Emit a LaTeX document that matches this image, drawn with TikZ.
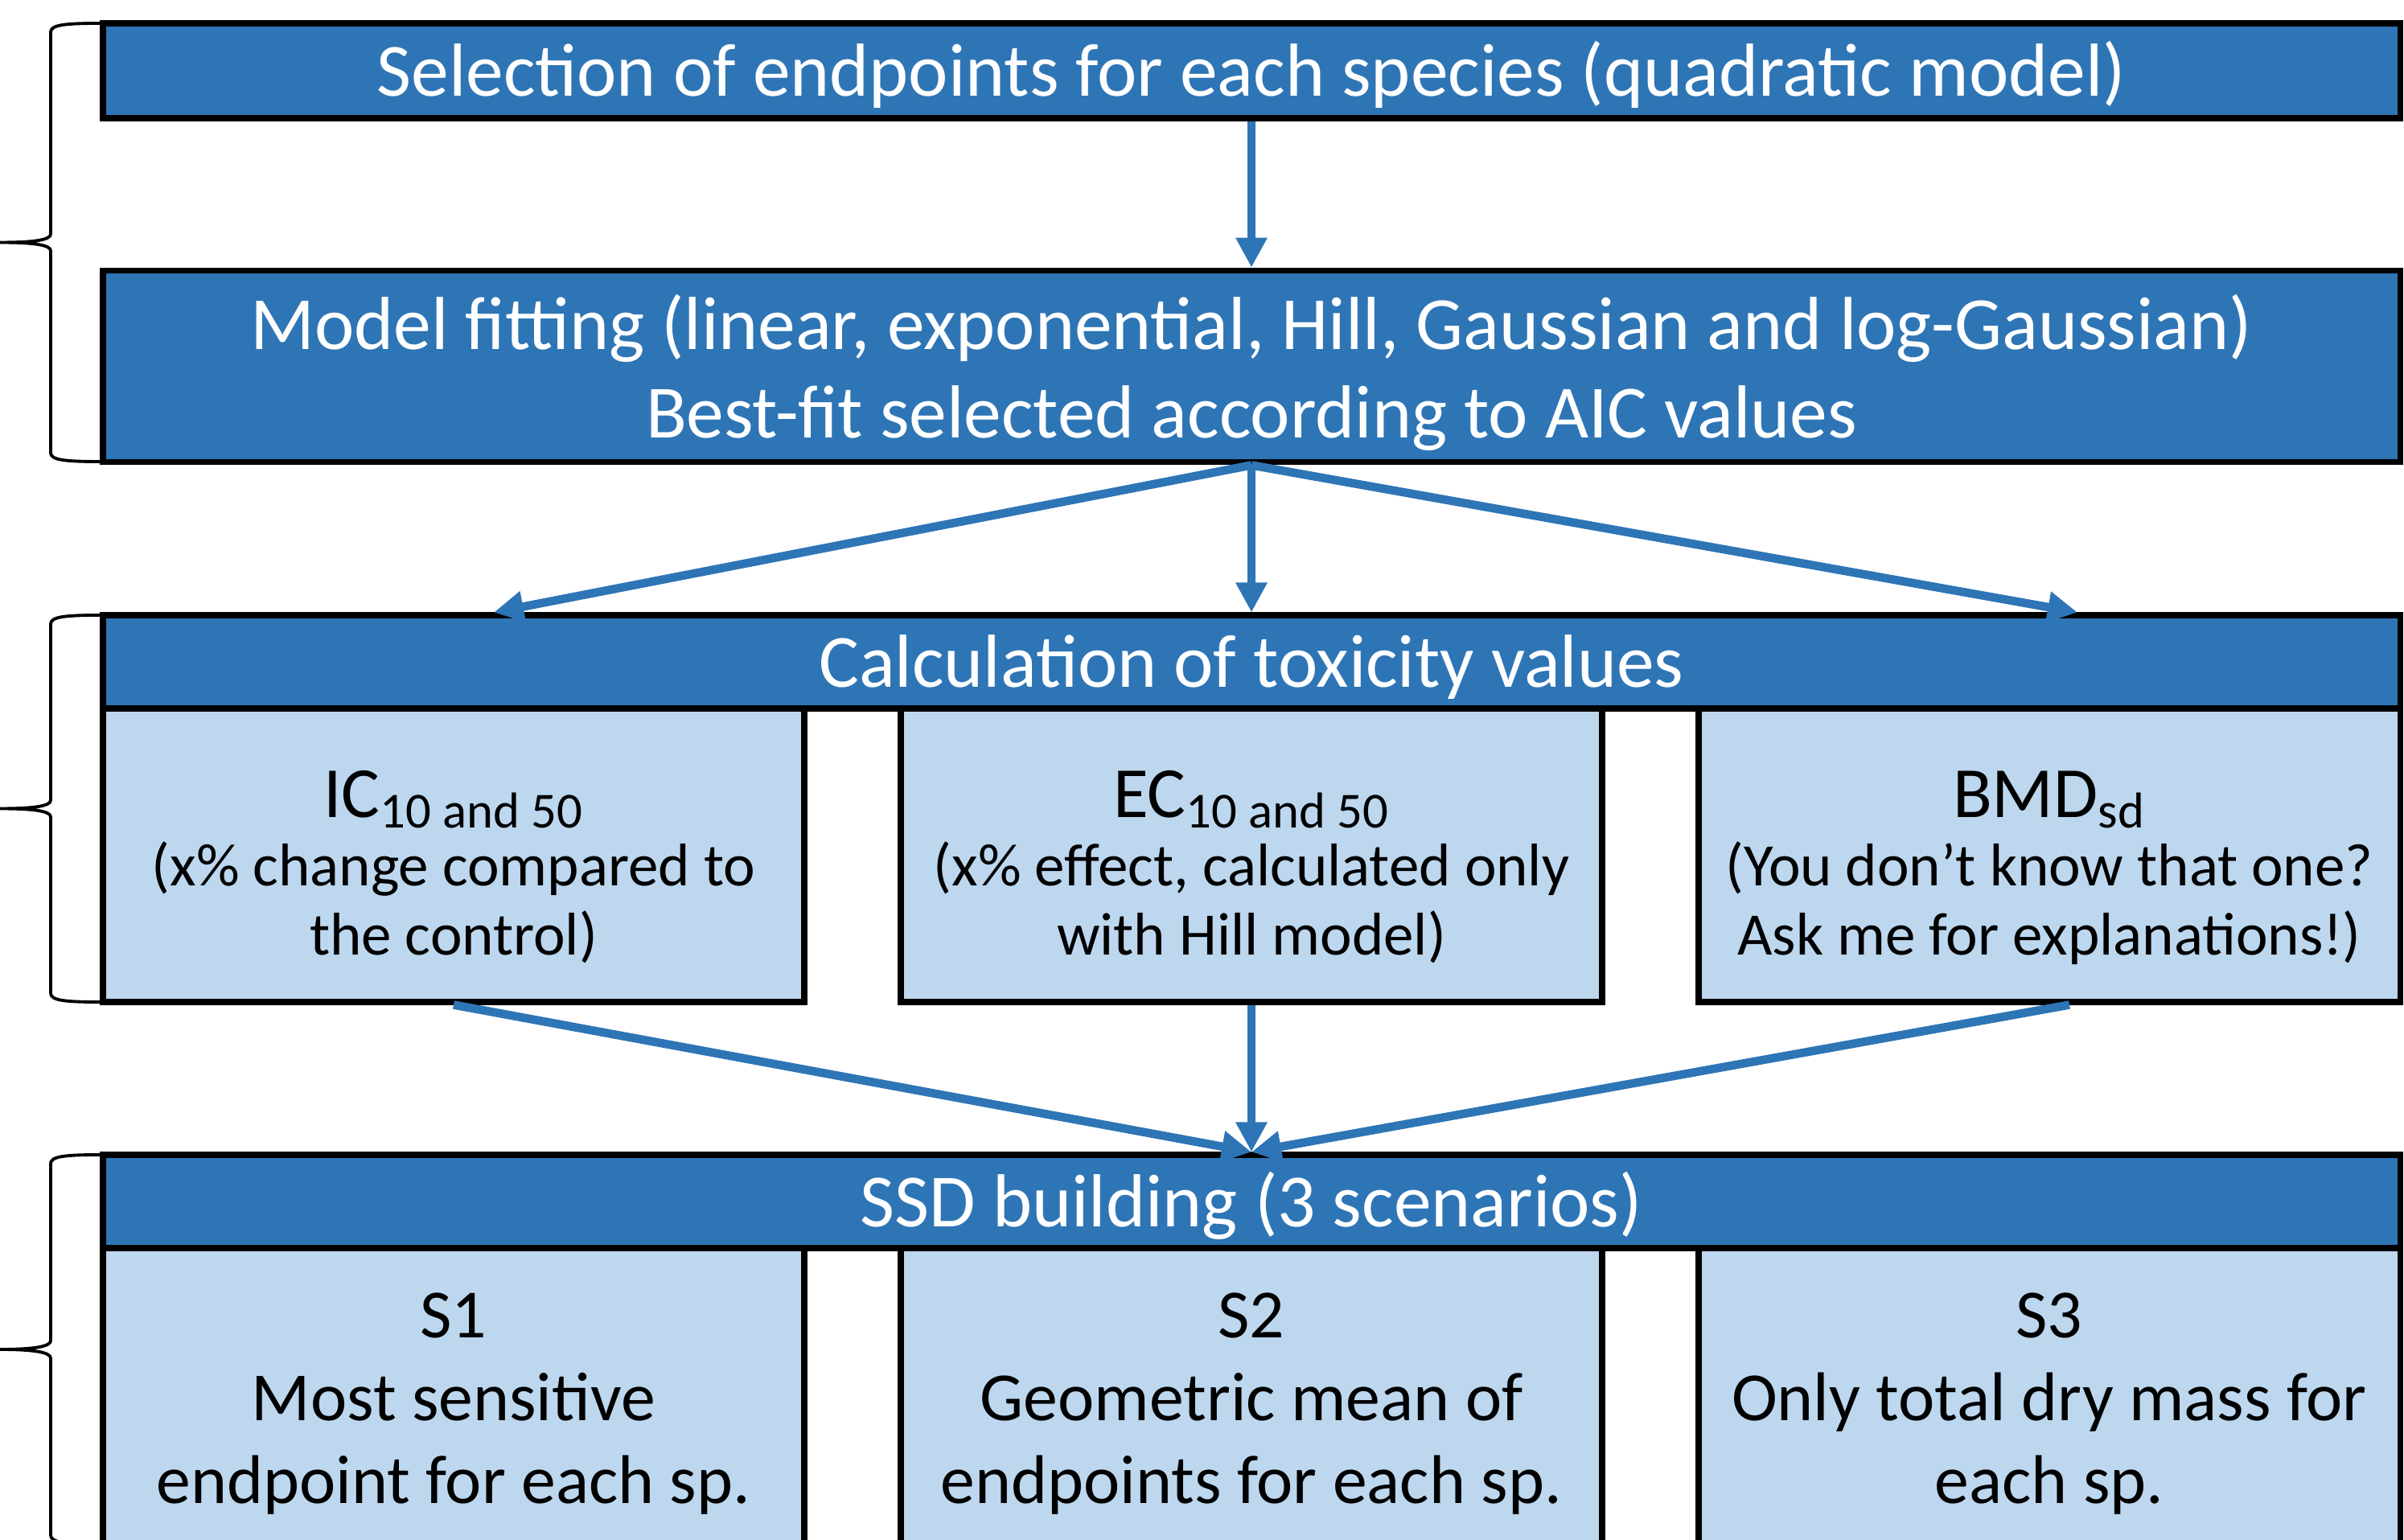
\documentclass[tikz,border=0pt]{standalone}
\usepackage{fontspec}
\setmainfont{Carlito}
\usetikzlibrary{arrows.meta,calc}
\definecolor{stageblue}{HTML}{2E75B6}
\definecolor{paleblue}{HTML}{BDD7EE}
\newcommand{\headstrut}[1]{\rule{0pt}{#1}}
\newcommand{\footstrut}{\rule[-0.3cm]{0pt}{0.3cm}}
\tikzset{
  stagebox/.style={draw=black,line width=2pt,fill=stageblue,text=white,minimum width=28.56cm,inner sep=0pt,align=center,font=\fontsize{26.6}{31.4}\selectfont},
  headline/.style={stagebox,minimum height=1.16cm,text height=0.64cm,text depth=0pt},
  valuebox/.style={draw=black,line width=2pt,fill=paleblue,text=black,minimum width=8.72cm,minimum height=3.65cm,inner sep=0pt,align=center,font=\fontsize{21.35}{24.4}\selectfont},
  scenbox/.style={draw=black,line width=2pt,fill=paleblue,text=black,minimum width=8.72cm,minimum height=3.8cm,inner sep=0pt,align=center,font=\fontsize{24.4}{29.2}\selectfont},
  flow/.style={draw=stageblue,line width=3pt,-{Triangle[length=0.37cm,width=0.37cm]}},
  bracket/.style={draw=black,line width=1.1pt}
}
\begin{document}
\begin{tikzpicture}
\useasboundingbox (0,0) rectangle (29.89,-19.15);
% first stage
\node[headline,minimum height=1.18cm] (select) at (15.56,-0.88) {Selection of endpoints for each species (quadratic model)};
\node[stagebox,minimum height=2.37cm] (fit) at (15.56,-4.555) {\headstrut{0.985cm}Model fitting (linear, exponential, Hill, Gaussian and log-Gaussian)\\Best-fit selected according to AIC values\footstrut};
% second stage
\node[headline] (tox) at (15.56,-8.23) {Calculation of toxicity values};
\node[valuebox] (ic) at (5.64,-10.635) {\headstrut{1.07cm}{\fontsize{25.5}{30}\selectfont IC\textsubscript{10 and 50}}\\(x\% change compared to\\the control)\footstrut};
\node[valuebox] (ec) at (15.56,-10.635) {\headstrut{1.07cm}{\fontsize{25.5}{30}\selectfont EC\textsubscript{10 and 50}}\\(x\% effect, calculated only\\with Hill model)\footstrut};
\node[valuebox] (bmd) at (25.48,-10.635) {\headstrut{1.07cm}{\fontsize{25.5}{30}\selectfont BMD\textsubscript{sd}}\\(You don’t know that one?\\Ask me for explanations!)\footstrut};
% third stage
\node[headline] (ssd) at (15.56,-14.94) {SSD building (3 scenarios)};
\node[scenbox] (s1) at (5.64,-17.42) {\headstrut{0.79cm}S1\\Most sensitive\\endpoint for each sp.\footstrut};
\node[scenbox] (s2) at (15.56,-17.42) {\headstrut{0.79cm}S2\\Geometric mean of\\endpoints for each sp.\footstrut};
\node[scenbox] (s3) at (25.48,-17.42) {\headstrut{0.79cm}S3\\Only total dry mass for\\each sp.\footstrut};
% braces on the left
\draw[bracket] (1.24,-0.29) .. controls (0.8,-0.29) and (0.63,-0.31) .. (0.63,-0.40) -- (0.63,-2.91) .. controls (0.63,-2.98) and (0.45,-3.015) .. (0,-3.015) .. controls (0.45,-3.015) and (0.63,-3.05) .. (0.63,-3.12) -- (0.63,-5.63) .. controls (0.63,-5.72) and (0.8,-5.74) .. (1.24,-5.74);
\draw[bracket] (1.24,-7.65) .. controls (0.8,-7.65) and (0.63,-7.67) .. (0.63,-7.76) -- (0.63,-9.95) .. controls (0.63,-10.02) and (0.45,-10.055) .. (0,-10.055) .. controls (0.45,-10.055) and (0.63,-10.09) .. (0.63,-10.16) -- (0.63,-12.35) .. controls (0.63,-12.44) and (0.8,-12.46) .. (1.24,-12.46);
\draw[bracket] (1.24,-14.36) .. controls (0.8,-14.36) and (0.63,-14.38) .. (0.63,-14.47) -- (0.63,-16.67) .. controls (0.63,-16.74) and (0.45,-16.78) .. (0,-16.78) .. controls (0.45,-16.78) and (0.63,-16.82) .. (0.63,-16.89) -- (0.63,-19.09) .. controls (0.63,-19.18) and (0.8,-19.2) .. (1.24,-19.2);
% arrows
\draw[flow] (select.south) -- (fit.north);
\draw[flow] (fit.south) -- ($(tox.north)+(-9.42,0)$);
\draw[flow] (fit.south) -- (tox.north);
\draw[flow] (fit.south) -- ($(tox.north)+(10.27,0)$);
\draw[flow] (ic.south) -- (ssd.north);
\draw[flow] (ec.south) -- (ssd.north);
\draw[flow] ($(bmd.south)+(0.25,0)$) -- (ssd.north);
\end{tikzpicture}
\end{document}
